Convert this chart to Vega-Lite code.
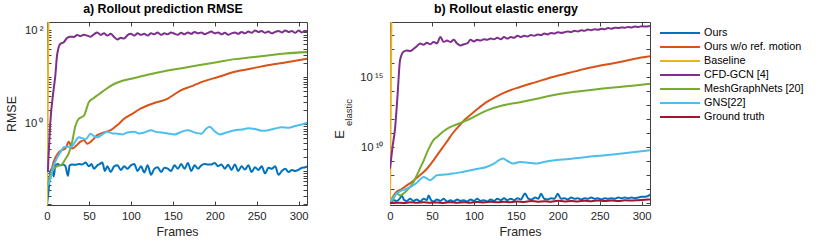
{
"$schema": "https://vega.github.io/schema/vega-lite/v6.json",
"padding": {"left": 5, "top": 3, "right": 2, "bottom": 2},
"spacing": 24,
"config": {
  "font": "Liberation Sans",
  "view": {"stroke": null},
  "title": {"fontSize": 12.4, "fontWeight": "bold", "color": "#000000", "offset": 6, "dx": -14},
  "axis": {"labelFontSize": 11.3, "titleFontSize": 12.4, "titleFontWeight": "normal", "labelColor": "#262626", "titleColor": "#262626", "domainColor": "#404040", "tickColor": "#404040", "grid": false, "labelFlush": false},
  "legend": {"labelFontSize": 10.8, "labelColor": "#000000"}
},
"datasets": {
"rmse": [
{"s":"Ours","f":0,"v":0.019},{"s":"Ours","f":2,"v":0.040},{"s":"Ours","f":4,"v":0.100},{"s":"Ours","f":6,"v":0.112},{"s":"Ours","f":8,"v":0.076},{"s":"Ours","f":10,"v":0.132},{"s":"Ours","f":13,"v":0.141},{"s":"Ours","f":16,"v":0.132},{"s":"Ours","f":19,"v":0.138},{"s":"Ours","f":22,"v":0.126},{"s":"Ours","f":25,"v":0.079},{"s":"Ours","f":27,"v":0.132},{"s":"Ours","f":30,"v":0.138},{"s":"Ours","f":34,"v":0.135},{"s":"Ours","f":38,"v":0.141},{"s":"Ours","f":42,"v":0.138},{"s":"Ours","f":46,"v":0.151},{"s":"Ours","f":50,"v":0.126},{"s":"Ours","f":53,"v":0.141},{"s":"Ours","f":56,"v":0.112},{"s":"Ours","f":60,"v":0.132},{"s":"Ours","f":63,"v":0.141},{"s":"Ours","f":66,"v":0.151},{"s":"Ours","f":69,"v":0.100},{"s":"Ours","f":72,"v":0.126},{"s":"Ours","f":76,"v":0.095},{"s":"Ours","f":80,"v":0.126},{"s":"Ours","f":84,"v":0.132},{"s":"Ours","f":88,"v":0.105},{"s":"Ours","f":92,"v":0.126},{"s":"Ours","f":96,"v":0.112},{"s":"Ours","f":100,"v":0.132},{"s":"Ours","f":104,"v":0.141},{"s":"Ours","f":108,"v":0.100},{"s":"Ours","f":112,"v":0.126},{"s":"Ours","f":116,"v":0.093},{"s":"Ours","f":120,"v":0.132},{"s":"Ours","f":124,"v":0.083},{"s":"Ours","f":128,"v":0.112},{"s":"Ours","f":132,"v":0.120},{"s":"Ours","f":136,"v":0.095},{"s":"Ours","f":140,"v":0.117},{"s":"Ours","f":144,"v":0.112},{"s":"Ours","f":148,"v":0.100},{"s":"Ours","f":152,"v":0.132},{"s":"Ours","f":156,"v":0.112},{"s":"Ours","f":160,"v":0.141},{"s":"Ours","f":164,"v":0.112},{"s":"Ours","f":168,"v":0.148},{"s":"Ours","f":172,"v":0.100},{"s":"Ours","f":176,"v":0.132},{"s":"Ours","f":180,"v":0.112},{"s":"Ours","f":184,"v":0.132},{"s":"Ours","f":188,"v":0.141},{"s":"Ours","f":192,"v":0.138},{"s":"Ours","f":196,"v":0.138},{"s":"Ours","f":200,"v":0.148},{"s":"Ours","f":204,"v":0.126},{"s":"Ours","f":208,"v":0.138},{"s":"Ours","f":212,"v":0.112},{"s":"Ours","f":216,"v":0.135},{"s":"Ours","f":220,"v":0.105},{"s":"Ours","f":224,"v":0.138},{"s":"Ours","f":228,"v":0.100},{"s":"Ours","f":232,"v":0.126},{"s":"Ours","f":236,"v":0.107},{"s":"Ours","f":240,"v":0.132},{"s":"Ours","f":244,"v":0.095},{"s":"Ours","f":248,"v":0.120},{"s":"Ours","f":252,"v":0.105},{"s":"Ours","f":256,"v":0.126},{"s":"Ours","f":260,"v":0.089},{"s":"Ours","f":264,"v":0.117},{"s":"Ours","f":268,"v":0.112},{"s":"Ours","f":272,"v":0.126},{"s":"Ours","f":276,"v":0.083},{"s":"Ours","f":280,"v":0.100},{"s":"Ours","f":284,"v":0.112},{"s":"Ours","f":288,"v":0.095},{"s":"Ours","f":292,"v":0.105},{"s":"Ours","f":296,"v":0.100},{"s":"Ours","f":300,"v":0.107},{"s":"Ours","f":304,"v":0.117},{"s":"Ours","f":308,"v":0.120},{"s":"Ours","f":311,"v":0.126},
{"s":"Ours w/o ref. motion","f":1,"v":0.05},{"s":"Ours w/o ref. motion","f":4,"v":0.081},{"s":"Ours w/o ref. motion","f":8,"v":0.158},{"s":"Ours w/o ref. motion","f":14,"v":0.25},{"s":"Ours w/o ref. motion","f":18,"v":0.28},{"s":"Ours w/o ref. motion","f":22,"v":0.30},{"s":"Ours w/o ref. motion","f":26,"v":0.42},{"s":"Ours w/o ref. motion","f":30,"v":0.30},{"s":"Ours w/o ref. motion","f":35,"v":0.35},{"s":"Ours w/o ref. motion","f":40,"v":0.42},{"s":"Ours w/o ref. motion","f":44,"v":0.45},{"s":"Ours w/o ref. motion","f":48,"v":0.38},{"s":"Ours w/o ref. motion","f":54,"v":0.45},{"s":"Ours w/o ref. motion","f":60,"v":0.58},{"s":"Ours w/o ref. motion","f":68,"v":0.66},{"s":"Ours w/o ref. motion","f":76,"v":0.74},{"s":"Ours w/o ref. motion","f":84,"v":0.95},{"s":"Ours w/o ref. motion","f":92,"v":1.29},{"s":"Ours w/o ref. motion","f":100,"v":1.58},{"s":"Ours w/o ref. motion","f":112,"v":2.14},{"s":"Ours w/o ref. motion","f":128,"v":2.8},{"s":"Ours w/o ref. motion","f":144,"v":3.47},{"s":"Ours w/o ref. motion","f":152,"v":4.3},{"s":"Ours w/o ref. motion","f":160,"v":5.25},{"s":"Ours w/o ref. motion","f":172,"v":6.3},{"s":"Ours w/o ref. motion","f":184,"v":7.76},{"s":"Ours w/o ref. motion","f":204,"v":10.0},{"s":"Ours w/o ref. motion","f":224,"v":12.9},{"s":"Ours w/o ref. motion","f":244,"v":15.1},{"s":"Ours w/o ref. motion","f":263,"v":17.8},{"s":"Ours w/o ref. motion","f":284,"v":20.4},{"s":"Ours w/o ref. motion","f":311,"v":24.5},
{"s":"Baseline","f":0,"v":0.019},{"s":"Baseline","f":2,"v":1000},
{"s":"CFD-GCN [4]","f":1,"v":0.095},{"s":"CFD-GCN [4]","f":4,"v":1.1},{"s":"CFD-GCN [4]","f":8,"v":5.6},{"s":"CFD-GCN [4]","f":10,"v":11},{"s":"CFD-GCN [4]","f":12,"v":29},{"s":"CFD-GCN [4]","f":16,"v":51},{"s":"CFD-GCN [4]","f":20,"v":55},{"s":"CFD-GCN [4]","f":24,"v":68},{"s":"CFD-GCN [4]","f":28,"v":72},{"s":"CFD-GCN [4]","f":32,"v":71},{"s":"CFD-GCN [4]","f":36,"v":78},{"s":"CFD-GCN [4]","f":40,"v":74},{"s":"CFD-GCN [4]","f":44,"v":79},{"s":"CFD-GCN [4]","f":48,"v":76},{"s":"CFD-GCN [4]","f":52,"v":72},{"s":"CFD-GCN [4]","f":56,"v":81},{"s":"CFD-GCN [4]","f":60,"v":89},{"s":"CFD-GCN [4]","f":64,"v":79},{"s":"CFD-GCN [4]","f":68,"v":85},{"s":"CFD-GCN [4]","f":72,"v":76},{"s":"CFD-GCN [4]","f":76,"v":83},{"s":"CFD-GCN [4]","f":80,"v":71},{"s":"CFD-GCN [4]","f":84,"v":63},{"s":"CFD-GCN [4]","f":88,"v":68},{"s":"CFD-GCN [4]","f":92,"v":66},{"s":"CFD-GCN [4]","f":96,"v":78},{"s":"CFD-GCN [4]","f":100,"v":83},{"s":"CFD-GCN [4]","f":104,"v":76},{"s":"CFD-GCN [4]","f":108,"v":85},{"s":"CFD-GCN [4]","f":112,"v":79},{"s":"CFD-GCN [4]","f":116,"v":83},{"s":"CFD-GCN [4]","f":120,"v":76},{"s":"CFD-GCN [4]","f":124,"v":85},{"s":"CFD-GCN [4]","f":128,"v":81},{"s":"CFD-GCN [4]","f":132,"v":89},{"s":"CFD-GCN [4]","f":136,"v":79},{"s":"CFD-GCN [4]","f":140,"v":85},{"s":"CFD-GCN [4]","f":144,"v":81},{"s":"CFD-GCN [4]","f":148,"v":89},{"s":"CFD-GCN [4]","f":152,"v":83},{"s":"CFD-GCN [4]","f":156,"v":79},{"s":"CFD-GCN [4]","f":160,"v":87},{"s":"CFD-GCN [4]","f":164,"v":81},{"s":"CFD-GCN [4]","f":168,"v":89},{"s":"CFD-GCN [4]","f":172,"v":83},{"s":"CFD-GCN [4]","f":176,"v":91},{"s":"CFD-GCN [4]","f":180,"v":85},{"s":"CFD-GCN [4]","f":184,"v":89},{"s":"CFD-GCN [4]","f":188,"v":81},{"s":"CFD-GCN [4]","f":192,"v":87},{"s":"CFD-GCN [4]","f":196,"v":93},{"s":"CFD-GCN [4]","f":200,"v":85},{"s":"CFD-GCN [4]","f":204,"v":89},{"s":"CFD-GCN [4]","f":208,"v":81},{"s":"CFD-GCN [4]","f":212,"v":87},{"s":"CFD-GCN [4]","f":216,"v":79},{"s":"CFD-GCN [4]","f":220,"v":85},{"s":"CFD-GCN [4]","f":224,"v":89},{"s":"CFD-GCN [4]","f":228,"v":83},{"s":"CFD-GCN [4]","f":232,"v":91},{"s":"CFD-GCN [4]","f":236,"v":85},{"s":"CFD-GCN [4]","f":240,"v":93},{"s":"CFD-GCN [4]","f":244,"v":87},{"s":"CFD-GCN [4]","f":248,"v":98},{"s":"CFD-GCN [4]","f":252,"v":91},{"s":"CFD-GCN [4]","f":256,"v":95},{"s":"CFD-GCN [4]","f":260,"v":87},{"s":"CFD-GCN [4]","f":264,"v":93},{"s":"CFD-GCN [4]","f":268,"v":85},{"s":"CFD-GCN [4]","f":272,"v":91},{"s":"CFD-GCN [4]","f":276,"v":95},{"s":"CFD-GCN [4]","f":280,"v":89},{"s":"CFD-GCN [4]","f":284,"v":98},{"s":"CFD-GCN [4]","f":288,"v":91},{"s":"CFD-GCN [4]","f":292,"v":95},{"s":"CFD-GCN [4]","f":296,"v":87},{"s":"CFD-GCN [4]","f":300,"v":98},{"s":"CFD-GCN [4]","f":304,"v":89},{"s":"CFD-GCN [4]","f":308,"v":95},{"s":"CFD-GCN [4]","f":311,"v":93},
{"s":"MeshGraphNets [20]","f":1,"v":0.05},{"s":"MeshGraphNets [20]","f":5,"v":0.09},{"s":"MeshGraphNets [20]","f":10,"v":0.12},{"s":"MeshGraphNets [20]","f":14,"v":0.13},{"s":"MeshGraphNets [20]","f":18,"v":0.14},{"s":"MeshGraphNets [20]","f":22,"v":0.18},{"s":"MeshGraphNets [20]","f":26,"v":0.24},{"s":"MeshGraphNets [20]","f":30,"v":0.42},{"s":"MeshGraphNets [20]","f":34,"v":0.93},{"s":"MeshGraphNets [20]","f":38,"v":1.3},{"s":"MeshGraphNets [20]","f":44,"v":1.5},{"s":"MeshGraphNets [20]","f":50,"v":2.95},{"s":"MeshGraphNets [20]","f":56,"v":3.6},{"s":"MeshGraphNets [20]","f":62,"v":4.3},{"s":"MeshGraphNets [20]","f":70,"v":5.5},{"s":"MeshGraphNets [20]","f":80,"v":7.1},{"s":"MeshGraphNets [20]","f":90,"v":8.3},{"s":"MeshGraphNets [20]","f":104,"v":9.5},{"s":"MeshGraphNets [20]","f":120,"v":11.2},{"s":"MeshGraphNets [20]","f":144,"v":13.8},{"s":"MeshGraphNets [20]","f":164,"v":15.8},{"s":"MeshGraphNets [20]","f":184,"v":18.2},{"s":"MeshGraphNets [20]","f":204,"v":20.9},{"s":"MeshGraphNets [20]","f":224,"v":24.0},{"s":"MeshGraphNets [20]","f":244,"v":26.3},{"s":"MeshGraphNets [20]","f":263,"v":28.8},{"s":"MeshGraphNets [20]","f":284,"v":31.6},{"s":"MeshGraphNets [20]","f":311,"v":33.9},
{"s":"GNS[22]","f":1,"v":0.05},{"s":"GNS[22]","f":2,"v":0.054},{"s":"GNS[22]","f":8,"v":0.13},{"s":"GNS[22]","f":12,"v":0.19},{"s":"GNS[22]","f":16,"v":0.25},{"s":"GNS[22]","f":20,"v":0.32},{"s":"GNS[22]","f":24,"v":0.33},{"s":"GNS[22]","f":28,"v":0.32},{"s":"GNS[22]","f":32,"v":0.38},{"s":"GNS[22]","f":38,"v":0.52},{"s":"GNS[22]","f":42,"v":0.5},{"s":"GNS[22]","f":46,"v":0.47},{"s":"GNS[22]","f":52,"v":0.62},{"s":"GNS[22]","f":56,"v":0.55},{"s":"GNS[22]","f":60,"v":0.52},{"s":"GNS[22]","f":66,"v":0.6},{"s":"GNS[22]","f":72,"v":0.68},{"s":"GNS[22]","f":78,"v":0.63},{"s":"GNS[22]","f":84,"v":0.62},{"s":"GNS[22]","f":90,"v":0.6},{"s":"GNS[22]","f":96,"v":0.66},{"s":"GNS[22]","f":104,"v":0.68},{"s":"GNS[22]","f":110,"v":0.63},{"s":"GNS[22]","f":116,"v":0.66},{"s":"GNS[22]","f":124,"v":0.74},{"s":"GNS[22]","f":130,"v":0.68},{"s":"GNS[22]","f":136,"v":0.66},{"s":"GNS[22]","f":144,"v":0.63},{"s":"GNS[22]","f":152,"v":0.6},{"s":"GNS[22]","f":160,"v":0.68},{"s":"GNS[22]","f":168,"v":0.74},{"s":"GNS[22]","f":176,"v":0.66},{"s":"GNS[22]","f":184,"v":0.62},{"s":"GNS[22]","f":190,"v":0.8},{"s":"GNS[22]","f":194,"v":0.87},{"s":"GNS[22]","f":200,"v":0.7},{"s":"GNS[22]","f":206,"v":0.6},{"s":"GNS[22]","f":214,"v":0.66},{"s":"GNS[22]","f":224,"v":0.74},{"s":"GNS[22]","f":232,"v":0.76},{"s":"GNS[22]","f":240,"v":0.81},{"s":"GNS[22]","f":248,"v":0.78},{"s":"GNS[22]","f":256,"v":0.72},{"s":"GNS[22]","f":264,"v":0.74},{"s":"GNS[22]","f":272,"v":0.8},{"s":"GNS[22]","f":280,"v":0.85},{"s":"GNS[22]","f":288,"v":0.83},{"s":"GNS[22]","f":296,"v":0.91},{"s":"GNS[22]","f":304,"v":0.98},{"s":"GNS[22]","f":311,"v":1.07}
],
"energy": [
{"s":"Ours","f":0,"v":7.9e5},{"s":"Ours","f":4,"v":1.6e6},{"s":"Ours","f":8,"v":1.4e6},{"s":"Ours","f":12,"v":2.2e6},{"s":"Ours","f":14,"v":3.5e6},{"s":"Ours","f":17,"v":1.6e6},{"s":"Ours","f":20,"v":1.4e6},{"s":"Ours","f":24,"v":2e6},{"s":"Ours","f":28,"v":1.4e6},{"s":"Ours","f":32,"v":1.8e6},{"s":"Ours","f":36,"v":1.26e6},{"s":"Ours","f":40,"v":2e6},{"s":"Ours","f":44,"v":1.6e6},{"s":"Ours","f":46,"v":3.5e6},{"s":"Ours","f":49,"v":1.6e6},{"s":"Ours","f":52,"v":1.26e6},{"s":"Ours","f":56,"v":1.8e6},{"s":"Ours","f":60,"v":1.4e6},{"s":"Ours","f":64,"v":2e6},{"s":"Ours","f":68,"v":1.26e6},{"s":"Ours","f":72,"v":1.6e6},{"s":"Ours","f":76,"v":1.26e6},{"s":"Ours","f":80,"v":1.8e6},{"s":"Ours","f":84,"v":1.4e6},{"s":"Ours","f":88,"v":1.6e6},{"s":"Ours","f":92,"v":1.26e6},{"s":"Ours","f":96,"v":1.8e6},{"s":"Ours","f":100,"v":1.4e6},{"s":"Ours","f":104,"v":2e6},{"s":"Ours","f":108,"v":1.4e6},{"s":"Ours","f":112,"v":1.6e6},{"s":"Ours","f":116,"v":1.26e6},{"s":"Ours","f":120,"v":1.8e6},{"s":"Ours","f":124,"v":1.4e6},{"s":"Ours","f":128,"v":2e6},{"s":"Ours","f":132,"v":1.6e6},{"s":"Ours","f":136,"v":2.2e6},{"s":"Ours","f":140,"v":1.6e6},{"s":"Ours","f":144,"v":2e6},{"s":"Ours","f":148,"v":1.6e6},{"s":"Ours","f":152,"v":2.2e6},{"s":"Ours","f":156,"v":1.8e6},{"s":"Ours","f":161,"v":4.7e6},{"s":"Ours","f":165,"v":2e6},{"s":"Ours","f":169,"v":1.8e6},{"s":"Ours","f":173,"v":2.5e6},{"s":"Ours","f":177,"v":2e6},{"s":"Ours","f":180,"v":4.5e6},{"s":"Ours","f":184,"v":2e6},{"s":"Ours","f":188,"v":1.8e6},{"s":"Ours","f":192,"v":2.2e6},{"s":"Ours","f":196,"v":2e6},{"s":"Ours","f":200,"v":4.5e6},{"s":"Ours","f":204,"v":2e6},{"s":"Ours","f":208,"v":2.2e6},{"s":"Ours","f":212,"v":1.8e6},{"s":"Ours","f":216,"v":2.5e6},{"s":"Ours","f":220,"v":2e6},{"s":"Ours","f":224,"v":2.2e6},{"s":"Ours","f":228,"v":1.8e6},{"s":"Ours","f":232,"v":2.2e6},{"s":"Ours","f":236,"v":2e6},{"s":"Ours","f":240,"v":2.5e6},{"s":"Ours","f":244,"v":2e6},{"s":"Ours","f":248,"v":2.2e6},{"s":"Ours","f":252,"v":1.8e6},{"s":"Ours","f":256,"v":2.2e6},{"s":"Ours","f":260,"v":2e6},{"s":"Ours","f":264,"v":2.2e6},{"s":"Ours","f":268,"v":2e6},{"s":"Ours","f":272,"v":2.5e6},{"s":"Ours","f":276,"v":2.2e6},{"s":"Ours","f":280,"v":2.5e6},{"s":"Ours","f":284,"v":2.2e6},{"s":"Ours","f":288,"v":2.5e6},{"s":"Ours","f":292,"v":2.2e6},{"s":"Ours","f":296,"v":2.5e6},{"s":"Ours","f":300,"v":2.8e6},{"s":"Ours","f":304,"v":2.8e6},{"s":"Ours","f":308,"v":3.2e6},{"s":"Ours","f":310,"v":4e6},
{"s":"Ours w/o ref. motion","f":0,"v":1e6},{"s":"Ours w/o ref. motion","f":4,"v":3.2e6},{"s":"Ours w/o ref. motion","f":8,"v":6.3e6},{"s":"Ours w/o ref. motion","f":14,"v":1e7},{"s":"Ours w/o ref. motion","f":20,"v":1.8e7},{"s":"Ours w/o ref. motion","f":26,"v":3.2e7},{"s":"Ours w/o ref. motion","f":32,"v":6.3e7},{"s":"Ours w/o ref. motion","f":38,"v":1.26e8},{"s":"Ours w/o ref. motion","f":44,"v":2.8e8},{"s":"Ours w/o ref. motion","f":50,"v":7.9e8},{"s":"Ours w/o ref. motion","f":56,"v":2.5e9},{"s":"Ours w/o ref. motion","f":62,"v":7.9e9},{"s":"Ours w/o ref. motion","f":68,"v":2.5e10},{"s":"Ours w/o ref. motion","f":75,"v":1e11},{"s":"Ours w/o ref. motion","f":83,"v":3.5e11},{"s":"Ours w/o ref. motion","f":90,"v":1e12},{"s":"Ours w/o ref. motion","f":95,"v":1.8e12},{"s":"Ours w/o ref. motion","f":105,"v":5.6e12},{"s":"Ours w/o ref. motion","f":115,"v":1.6e13},{"s":"Ours w/o ref. motion","f":125,"v":3.5e13},{"s":"Ours w/o ref. motion","f":135,"v":7.1e13},{"s":"Ours w/o ref. motion","f":155,"v":1.95e14},{"s":"Ours w/o ref. motion","f":175,"v":4.5e14},{"s":"Ours w/o ref. motion","f":194,"v":1e15},{"s":"Ours w/o ref. motion","f":214,"v":2e15},{"s":"Ours w/o ref. motion","f":234,"v":4e15},{"s":"Ours w/o ref. motion","f":254,"v":7.1e15},{"s":"Ours w/o ref. motion","f":274,"v":1.17e16},{"s":"Ours w/o ref. motion","f":292,"v":2e16},{"s":"Ours w/o ref. motion","f":310,"v":3e16},
{"s":"Baseline","f":0,"v":7e5},{"s":"Baseline","f":2,"v":1e22},
{"s":"CFD-GCN [4]","f":0,"v":2.8e8},{"s":"CFD-GCN [4]","f":3,"v":1e10},{"s":"CFD-GCN [4]","f":6,"v":2e11},{"s":"CFD-GCN [4]","f":9,"v":5e13},{"s":"CFD-GCN [4]","f":12,"v":1.6e16},{"s":"CFD-GCN [4]","f":16,"v":6.3e16},{"s":"CFD-GCN [4]","f":20,"v":7.9e16},{"s":"CFD-GCN [4]","f":24,"v":7.1e16},{"s":"CFD-GCN [4]","f":28,"v":1e17},{"s":"CFD-GCN [4]","f":32,"v":1.6e17},{"s":"CFD-GCN [4]","f":36,"v":2.5e17},{"s":"CFD-GCN [4]","f":40,"v":2e17},{"s":"CFD-GCN [4]","f":44,"v":2.8e17},{"s":"CFD-GCN [4]","f":48,"v":2.2e17},{"s":"CFD-GCN [4]","f":52,"v":3.2e17},{"s":"CFD-GCN [4]","f":56,"v":2.5e17},{"s":"CFD-GCN [4]","f":60,"v":7.1e17},{"s":"CFD-GCN [4]","f":64,"v":3.2e17},{"s":"CFD-GCN [4]","f":68,"v":4e17},{"s":"CFD-GCN [4]","f":72,"v":3.2e17},{"s":"CFD-GCN [4]","f":76,"v":4.5e17},{"s":"CFD-GCN [4]","f":80,"v":2.5e17},{"s":"CFD-GCN [4]","f":84,"v":1.8e17},{"s":"CFD-GCN [4]","f":88,"v":2.2e17},{"s":"CFD-GCN [4]","f":92,"v":2.5e17},{"s":"CFD-GCN [4]","f":96,"v":4.5e17},{"s":"CFD-GCN [4]","f":100,"v":3.5e17},{"s":"CFD-GCN [4]","f":104,"v":4.5e17},{"s":"CFD-GCN [4]","f":108,"v":4e17},{"s":"CFD-GCN [4]","f":112,"v":5e17},{"s":"CFD-GCN [4]","f":116,"v":4.5e17},{"s":"CFD-GCN [4]","f":120,"v":5.6e17},{"s":"CFD-GCN [4]","f":124,"v":5e17},{"s":"CFD-GCN [4]","f":128,"v":6.3e17},{"s":"CFD-GCN [4]","f":132,"v":5e17},{"s":"CFD-GCN [4]","f":136,"v":7.1e17},{"s":"CFD-GCN [4]","f":140,"v":5.6e17},{"s":"CFD-GCN [4]","f":144,"v":7.1e17},{"s":"CFD-GCN [4]","f":148,"v":6.3e17},{"s":"CFD-GCN [4]","f":152,"v":8.9e17},{"s":"CFD-GCN [4]","f":156,"v":7.1e17},{"s":"CFD-GCN [4]","f":160,"v":8.9e17},{"s":"CFD-GCN [4]","f":164,"v":7.9e17},{"s":"CFD-GCN [4]","f":168,"v":1e18},{"s":"CFD-GCN [4]","f":172,"v":8.9e17},{"s":"CFD-GCN [4]","f":176,"v":1.1e18},{"s":"CFD-GCN [4]","f":180,"v":1e18},{"s":"CFD-GCN [4]","f":184,"v":1.26e18},{"s":"CFD-GCN [4]","f":188,"v":1.1e18},{"s":"CFD-GCN [4]","f":192,"v":1.4e18},{"s":"CFD-GCN [4]","f":196,"v":1.26e18},{"s":"CFD-GCN [4]","f":200,"v":1.6e18},{"s":"CFD-GCN [4]","f":204,"v":1.4e18},{"s":"CFD-GCN [4]","f":208,"v":1.6e18},{"s":"CFD-GCN [4]","f":212,"v":1.8e18},{"s":"CFD-GCN [4]","f":216,"v":1.6e18},{"s":"CFD-GCN [4]","f":220,"v":2e18},{"s":"CFD-GCN [4]","f":224,"v":1.8e18},{"s":"CFD-GCN [4]","f":228,"v":2.2e18},{"s":"CFD-GCN [4]","f":232,"v":2e18},{"s":"CFD-GCN [4]","f":236,"v":2.5e18},{"s":"CFD-GCN [4]","f":240,"v":2.2e18},{"s":"CFD-GCN [4]","f":244,"v":2.6e18},{"s":"CFD-GCN [4]","f":248,"v":2.4e18},{"s":"CFD-GCN [4]","f":252,"v":2.8e18},{"s":"CFD-GCN [4]","f":256,"v":2.6e18},{"s":"CFD-GCN [4]","f":260,"v":3.2e18},{"s":"CFD-GCN [4]","f":264,"v":2.8e18},{"s":"CFD-GCN [4]","f":268,"v":3.3e18},{"s":"CFD-GCN [4]","f":272,"v":3.2e18},{"s":"CFD-GCN [4]","f":276,"v":3.5e18},{"s":"CFD-GCN [4]","f":280,"v":3.3e18},{"s":"CFD-GCN [4]","f":284,"v":3.7e18},{"s":"CFD-GCN [4]","f":288,"v":3.5e18},{"s":"CFD-GCN [4]","f":292,"v":4e18},{"s":"CFD-GCN [4]","f":296,"v":3.8e18},{"s":"CFD-GCN [4]","f":300,"v":4.2e18},{"s":"CFD-GCN [4]","f":304,"v":4e18},{"s":"CFD-GCN [4]","f":310,"v":4.5e18},
{"s":"MeshGraphNets [20]","f":0,"v":1e6},{"s":"MeshGraphNets [20]","f":3,"v":1.6e6},{"s":"MeshGraphNets [20]","f":8,"v":4.7e6},{"s":"MeshGraphNets [20]","f":12,"v":3.5e6},{"s":"MeshGraphNets [20]","f":16,"v":4.7e6},{"s":"MeshGraphNets [20]","f":20,"v":7.9e6},{"s":"MeshGraphNets [20]","f":24,"v":1.4e7},{"s":"MeshGraphNets [20]","f":28,"v":3.2e7},{"s":"MeshGraphNets [20]","f":32,"v":9.5e7},{"s":"MeshGraphNets [20]","f":36,"v":3.2e8},{"s":"MeshGraphNets [20]","f":40,"v":1e9},{"s":"MeshGraphNets [20]","f":44,"v":4e9},{"s":"MeshGraphNets [20]","f":48,"v":1.26e10},{"s":"MeshGraphNets [20]","f":52,"v":3.2e10},{"s":"MeshGraphNets [20]","f":56,"v":5.1e10},{"s":"MeshGraphNets [20]","f":62,"v":1.1e11},{"s":"MeshGraphNets [20]","f":68,"v":2e11},{"s":"MeshGraphNets [20]","f":75,"v":3.2e11},{"s":"MeshGraphNets [20]","f":83,"v":5e11},{"s":"MeshGraphNets [20]","f":95,"v":1e12},{"s":"MeshGraphNets [20]","f":115,"v":4e12},{"s":"MeshGraphNets [20]","f":135,"v":9.5e12},{"s":"MeshGraphNets [20]","f":155,"v":1.6e13},{"s":"MeshGraphNets [20]","f":175,"v":2.8e13},{"s":"MeshGraphNets [20]","f":194,"v":5e13},{"s":"MeshGraphNets [20]","f":214,"v":7.9e13},{"s":"MeshGraphNets [20]","f":234,"v":1.1e14},{"s":"MeshGraphNets [20]","f":254,"v":1.5e14},{"s":"MeshGraphNets [20]","f":274,"v":1.95e14},{"s":"MeshGraphNets [20]","f":292,"v":2.5e14},{"s":"MeshGraphNets [20]","f":310,"v":3.3e14},
{"s":"GNS[22]","f":0,"v":1e6},{"s":"GNS[22]","f":4,"v":2.5e6},{"s":"GNS[22]","f":8,"v":4.7e6},{"s":"GNS[22]","f":14,"v":7.9e6},{"s":"GNS[22]","f":20,"v":1.05e7},{"s":"GNS[22]","f":26,"v":1.6e7},{"s":"GNS[22]","f":32,"v":2.8e7},{"s":"GNS[22]","f":36,"v":5e7},{"s":"GNS[22]","f":40,"v":7.2e7},{"s":"GNS[22]","f":44,"v":5.6e7},{"s":"GNS[22]","f":48,"v":4.2e7},{"s":"GNS[22]","f":52,"v":6.3e7},{"s":"GNS[22]","f":56,"v":9.5e7},{"s":"GNS[22]","f":66,"v":1.1e8},{"s":"GNS[22]","f":75,"v":1.26e8},{"s":"GNS[22]","f":85,"v":1.6e8},{"s":"GNS[22]","f":95,"v":2.1e8},{"s":"GNS[22]","f":105,"v":2.8e8},{"s":"GNS[22]","f":115,"v":3.7e8},{"s":"GNS[22]","f":125,"v":7.1e8},{"s":"GNS[22]","f":131,"v":1.26e9},{"s":"GNS[22]","f":135,"v":1.5e9},{"s":"GNS[22]","f":140,"v":1e9},{"s":"GNS[22]","f":147,"v":6.5e8},{"s":"GNS[22]","f":155,"v":8.5e8},{"s":"GNS[22]","f":165,"v":7.6e8},{"s":"GNS[22]","f":175,"v":6.5e8},{"s":"GNS[22]","f":185,"v":8.9e8},{"s":"GNS[22]","f":194,"v":1.1e9},{"s":"GNS[22]","f":214,"v":1.4e9},{"s":"GNS[22]","f":234,"v":1.95e9},{"s":"GNS[22]","f":254,"v":2.5e9},{"s":"GNS[22]","f":274,"v":3.3e9},{"s":"GNS[22]","f":292,"v":4.4e9},{"s":"GNS[22]","f":310,"v":5.8e9},
{"s":"Ground truth","f":0,"v":1e6},{"s":"Ground truth","f":8,"v":1.05e6},{"s":"Ground truth","f":16,"v":1e6},{"s":"Ground truth","f":24,"v":1.12e6},{"s":"Ground truth","f":32,"v":1.05e6},{"s":"Ground truth","f":40,"v":1.15e6},{"s":"Ground truth","f":48,"v":1.05e6},{"s":"Ground truth","f":56,"v":1.1e6},{"s":"Ground truth","f":64,"v":1.02e6},{"s":"Ground truth","f":72,"v":1.12e6},{"s":"Ground truth","f":80,"v":1.05e6},{"s":"Ground truth","f":88,"v":1.15e6},{"s":"Ground truth","f":96,"v":1.06e6},{"s":"Ground truth","f":104,"v":1.2e6},{"s":"Ground truth","f":112,"v":1.1e6},{"s":"Ground truth","f":120,"v":1.22e6},{"s":"Ground truth","f":128,"v":1.12e6},{"s":"Ground truth","f":136,"v":1.25e6},{"s":"Ground truth","f":144,"v":1.15e6},{"s":"Ground truth","f":152,"v":1.3e6},{"s":"Ground truth","f":160,"v":1.2e6},{"s":"Ground truth","f":168,"v":1.4e6},{"s":"Ground truth","f":176,"v":1.25e6},{"s":"Ground truth","f":184,"v":1.35e6},{"s":"Ground truth","f":192,"v":1.25e6},{"s":"Ground truth","f":200,"v":1.45e6},{"s":"Ground truth","f":208,"v":1.3e6},{"s":"Ground truth","f":216,"v":1.4e6},{"s":"Ground truth","f":224,"v":1.3e6},{"s":"Ground truth","f":232,"v":1.45e6},{"s":"Ground truth","f":240,"v":1.35e6},{"s":"Ground truth","f":248,"v":1.5e6},{"s":"Ground truth","f":256,"v":1.4e6},{"s":"Ground truth","f":264,"v":1.5e6},{"s":"Ground truth","f":272,"v":1.4e6},{"s":"Ground truth","f":280,"v":1.55e6},{"s":"Ground truth","f":288,"v":1.5e6},{"s":"Ground truth","f":296,"v":1.6e6},{"s":"Ground truth","f":304,"v":1.7e6},{"s":"Ground truth","f":310,"v":1.8e6}
]
},
"hconcat": [
{
  "data": {"name": "rmse"},
  "title": "a) Rollout prediction RMSE",
  "width": 260, "height": 183,
  "layer": [
    {
      "mark": {"type": "line", "strokeWidth": 2, "clip": true, "interpolate": "monotone"},
      "encoding": {
        "x": {"field": "f", "type": "quantitative", "scale": {"domain": [0, 310], "nice": false, "zero": false},
              "axis": {"title": "Frames", "values": [0,50,100,150,200,250,300], "tickSize": -4, "labelPadding": 9, "titlePadding": 4}},
        "y": {"field": "v", "type": "quantitative", "scale": {"type": "log", "domain": [0.0189, 148], "nice": false},
              "axis": {"title": "RMSE", "values": [0.02,0.03,0.04,0.05,0.06,0.07,0.08,0.09,0.1,0.2,0.3,0.4,0.5,0.6,0.7,0.8,0.9,1,2,3,4,5,6,7,8,9,10,20,30,40,50,60,70,80,90,100],
                       "labelExpr": "datum.value == 1 ? '10\u2009⁰' : (datum.value == 100 ? '10\u2009²' : '')",
                       "tickSize": -4, "labelPadding": 8, "titlePadding": 6}},
        "color": {"field": "s", "type": "nominal",
                  "scale": {"domain": ["Ours","Ours w/o ref. motion","Baseline","CFD-GCN [4]","MeshGraphNets [20]","GNS[22]","Ground truth"],
                            "range": ["#0072BD","#D95319","#EDB120","#7E2F8E","#77AC30","#4DBEEE","#A2142F"]},
                  "legend": {"title": null, "orient": "right", "offset": 17, "padding": 5, "symbolType": "M-4,0H4", "symbolSize": 100, "symbolStrokeWidth": 2, "labelOffset": 18, "rowPadding": 3}}
      }
    },
    {
      "mark": {"type": "line", "opacity": 0, "clip": true},
      "encoding": {
        "x": {"field": "f", "type": "quantitative", "axis": {"orient": "top", "title": null, "labels": false, "values": [0,50,100,150,200,250,300], "tickSize": -4}},
        "y": {"field": "v", "type": "quantitative", "axis": {"orient": "right", "title": null, "labels": false, "values": [0.02,0.03,0.04,0.05,0.06,0.07,0.08,0.09,0.1,0.2,0.3,0.4,0.5,0.6,0.7,0.8,0.9,1,2,3,4,5,6,7,8,9,10,20,30,40,50,60,70,80,90,100], "tickSize": -4}},
        "detail": {"field": "s"}
      }
    }
  ],
  "resolve": {"axis": {"x": "independent", "y": "independent"}}
},
{
  "data": {"name": "energy"},
  "title": "b) Rollout elastic energy",
  "width": 260, "height": 183,
  "layer": [
    {
      "mark": {"type": "line", "strokeWidth": 2, "clip": true, "interpolate": "monotone"},
      "encoding": {
        "x": {"field": "f", "type": "quantitative", "scale": {"domain": [0, 310], "nice": false, "zero": false},
              "axis": {"title": "Frames", "values": [0,50,100,150,200,250,300], "tickSize": -4, "labelPadding": 9, "titlePadding": 4}},
        "y": {"field": "v", "type": "quantitative", "scale": {"type": "log", "domain": [7.2e5, 8.5e18], "nice": false},
              "axis": {"title": "E", "titleX": -47, "titleY": 112, "titleBaseline": "alphabetic", "titleAlign": "center", "titleFontSize": 13,
                       "values": [1e6,1e7,1e8,1e9,1e10,1e11,1e12,1e13,1e14,1e15,1e16,1e17,1e18],
                       "labelExpr": "datum.value == 1e10 ? '10\u2009¹⁰' : (datum.value == 1e15 ? '10\u2009¹⁵' : '')",
                       "tickSize": -4, "labelPadding": 11}},
        "color": {"field": "s", "type": "nominal"}
      }
    },
    {
      "mark": {"type": "line", "opacity": 0, "clip": true},
      "encoding": {
        "x": {"field": "f", "type": "quantitative", "axis": {"orient": "top", "title": null, "labels": false, "values": [0,50,100,150,200,250,300], "tickSize": -4}},
        "y": {"field": "v", "type": "quantitative", "axis": {"orient": "right", "title": null, "labels": false, "values": [1e6,1e7,1e8,1e9,1e10,1e11,1e12,1e13,1e14,1e15,1e16,1e17,1e18], "tickSize": -4}},
        "detail": {"field": "s"}
      }
    },
    {
      "mark": {"type": "line", "opacity": 0, "clip": true},
      "encoding": {
        "x": {"field": "f", "type": "quantitative", "axis": null},
        "y": {"field": "v", "type": "quantitative", "axis": {"orient": "left", "title": "elastic", "titleX": -39, "titleY": 90, "titleBaseline": "alphabetic", "titleAlign": "center", "titleFontSize": 9.5, "labels": false, "ticks": false, "domain": false}},
        "detail": {"field": "s"}
      }
    }
  ],
  "resolve": {"axis": {"x": "independent", "y": "independent"}}
}
]
}
